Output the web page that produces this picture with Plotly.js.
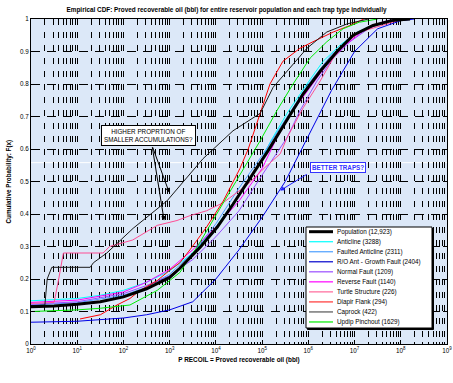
<!DOCTYPE html>
<html><head><meta charset="utf-8">
<script src="https://cdn.plot.ly/plotly-3.0.1.min.js"></script>
<style>html,body{margin:0;padding:0;background:#fff}#chart{width:453px;height:383px}</style>
</head><body><div id="chart"></div>
<script>
// ---- DATA (x given as log10 of P RECOIL in bbl, y = cumulative probability) ----
const seriesNames = ['Population (12,923)','Anticline (3288)','Faulted Anticline (2311)','R/O Ant - Growth Fault (2404)','Normal Fault (1209)','Reverse Fault (1140)','Turtle Structure (226)','Diapir Flank (294)','Caprock (422)','Updip Pinchout (1629)'];

const popExp = [0,0.5,1,1.5,2,2.5,3,3.22,3.66,4.03,4.37,4.74,5.13,5.54,5.89,6.26,6.62,6.97,7.4,7.8,8.2];
const popF   = [.115,.117,.122,.13,.145,.17,.205,.233,.298,.36,.43,.51,.595,.69,.77,.84,.90,.95,.98,.995,1];

const antExp = [0,1,1.5,2,2.5,3,3.5,4,4.5,5,5.17,5.54,5.97,6.32,6.69,7.06,7.5,8];
const antF   = [.133,.14,.15,.165,.19,.225,.28,.36,.46,.57,.62,.71,.80,.87,.92,.96,.985,1];

const fantExp = [0,1,2,2.5,3,3.5,4,4.5,5,5.5,6,6.5,7,7.5,7.9];
const fantF   = [.12,.127,.15,.175,.215,.28,.37,.48,.58,.69,.80,.89,.95,.985,1];

const roExp = [0,1,2,2.5,3,3.5,4,4.5,5,5.5,6,6.5,7,7.5,8,8.3];
const roF   = [.067,.07,.08,.09,.105,.13,.2,.29,.39,.5,.64,.78,.9,.97,.995,1];

const normExp = [0,1,2,2.5,3,3.5,4,4.5,5,5.54,5.82,6.19,6.54,6.9,7.3,7.7,8];
const normF   = [.122,.13,.155,.18,.21,.26,.33,.41,.52,.635,.718,.81,.88,.93,.97,.995,1];

const revExp = [0,1,2,2.5,3,3.5,4,4.5,5,5.32,5.67,6.04,6.4,6.8,7.2,7.6,8];
const revF   = [.128,.135,.16,.19,.23,.29,.36,.44,.54,.635,.718,.79,.86,.92,.965,.99,1];

const turtExp = [0,0.5,0.6,0.7,1.56,1.7,2.2,2.73,3.16,3.44,3.8,4.16,4.68,5.06,5.39,5.54,5.89,6.26,6.54,6.84,7.12,7.6,8.05];
const turtF   = [.125,.128,.2,.28,.28,.3,.32,.365,.38,.395,.41,.435,.49,.543,.585,.635,.727,.81,.88,.93,.96,.98,1];

const diapExp = [1.06,1.5,1.86,2.14,2.36,2.73,3,3.22,3.44,3.8,4.16,4.52,4.7,4.89,5.17,5.45,5.82,6.1,6.54,6.9,7.2];
const diapF   = [.077,.09,.12,.14,.165,.195,.227,.25,.29,.36,.44,.54,.6,.68,.8,.87,.91,.93,.96,.98,1];

const capExp = [0,0.3,0.35,0.45,1.28,1.35,1.64,2.21,2.94,3.72,4.37,4.96,5.24,5.67,5.97,6.4,6.84,7.3];
const capF   = [.118,.12,.2,.236,.236,.25,.28,.356,.44,.57,.656,.71,.79,.86,.91,.96,.985,1];

const updExp = [0,1,1.5,2.14,2.73,3.22,3.6,4.1,4.6,4.96,5.32,5.67,6.04,6.4,6.75,7.1,7.5];
const updF   = [.1,.105,.11,.12,.165,.22,.3,.42,.54,.626,.718,.8,.88,.93,.97,.99,1];

const xTickExp = [0,1,2,3,4,5,6,7,8,9];
const yTicks = [0,0.1,0.2,0.3,0.4,0.5,0.6,0.7,0.8,0.9,1];

// ---- STYLE ----
const seriesExp = [popExp,antExp,fantExp,roExp,normExp,revExp,turtExp,diapExp,capExp,updExp];
const seriesF   = [popF,antF,fantF,roF,normF,revF,turtF,diapF,capF,updF];
const colors = ['#000000','#00ffff','#4d9fff','#0000e6','#9a4dff','#ff00ff','#ff4d94','#ff0000','#1a1a1a','#00ee00'];
const legendColors = ['#000000','#00ffff','#4d9fff','#0000cc','#9a4dff','#ff00ff','#ff6699','#ff3333','#555555','#00ee00'];
const widths = [3,1,1,1,1,1,1,1,1,1];
const FONT = 'Liberation Sans, Arial, sans-serif';

const toVal = e => Math.pow(10, e);
const traces = [];
const order = [1,2,3,4,5,6,7,9,8,0];
order.forEach(i => {
  traces.push({
    type:'scatter', mode:'lines', name: seriesNames[i],
    x: seriesExp[i].map(toVal), y: seriesF[i],
    line:{color: colors[i], width: widths[i]},
    showlegend:false, hoverinfo:'skip'
  });
});

// plot area in pixels
const L=31, R=447, T=19, B=344;
const px = p => (p-L)/(R-L);
const py = p => (B-p)/(B-T);

const shapes = [
  {type:'line', xref:'paper', yref:'y', x0:0, x1:1, y0:0.558, y1:0.558, line:{color:'#ffffff', width:1}, layer:'between'},
  // legend shadow + box
  {type:'rect', xref:'paper', yref:'paper', x0:px(307.5), x1:px(433.5), y0:py(329.5), y1:py(228.5), line:{color:'#000', width:1}, fillcolor:'#000'},
  {type:'rect', xref:'paper', yref:'paper', x0:px(306), x1:px(432), y0:py(328), y1:py(227), line:{color:'#000', width:1}, fillcolor:'#fff'}
];
const annotations = [];
seriesNames.forEach((n,i) => {
  const yy = 231.7 + i*10.03;
  shapes.push({type:'line', xref:'paper', yref:'paper', x0:px(309), x1:px(333), y0:py(yy), y1:py(yy),
    line:{color: legendColors[i], width: i===0?3:1.2}});
  annotations.push({xref:'paper', yref:'paper', x:px(334.5), y:py(yy), xanchor:'left', yanchor:'middle',
    text:n, showarrow:false, font:{family:FONT, size:6.3, color:'#000'}});
});

annotations.push(
  {xref:'x', yref:'y', x:2.55, y:0.641, text:'HIGHER PROPRTION OF<br>SMALLER ACCUMULATIONS?', showarrow:false,
   bgcolor:'#fff', bordercolor:'#000', borderwidth:1, borderpad:2, font:{family:FONT, size:6.3, color:'#000'}},
  {xref:'x', yref:'y', x:2.99, y:0.466, axref:'x', ayref:'y', ax:2.62, ay:0.61, text:'', showarrow:true,
   arrowhead:2, arrowsize:0.9, arrowwidth:1, arrowcolor:'#000'},
  {xref:'x', yref:'y', x:2.88, y:0.38, axref:'x', ayref:'y', ax:2.62, ay:0.61, text:'', showarrow:true,
   arrowhead:2, arrowsize:0.9, arrowwidth:1, arrowcolor:'#000'},
  {xref:'x', yref:'y', x:6.65, y:0.543, text:'<b>BETTER TRAPS?</b>', showarrow:false,
   bgcolor:'#fff', bordercolor:'#3333ff', borderwidth:1, borderpad:1, font:{family:FONT, size:6.3, color:'#3333ff'}},
  {xref:'x', yref:'y', x:5.39, y:0.472, axref:'x', ayref:'y', ax:6.0, ay:0.525, text:'', showarrow:true,
   arrowhead:2, arrowsize:0.9, arrowwidth:1, arrowcolor:'#2222ff'},
  {xref:'paper', yref:'paper', x:px(8), y:0.5, text:'<b>Cumulative Probability: F(x)</b>', textangle:-90, showarrow:false,
   xanchor:'center', yanchor:'middle', font:{family:FONT, size:6.3, color:'#000'}}
);

const layout = {
  width:453, height:383,
  margin:{l:L, r:453-R, t:T, b:383-B},
  paper_bgcolor:'#ffffff', plot_bgcolor:'#dce8f8',
  font:{family:FONT, size:6.3, color:'#000'},
  title:{text:'<b>Empirical CDF: Proved recoverable oil (bbl) for entire reservoir population and each trap type individually</b>',
    font:{family:FONT, size:6.4, color:'#000'}, x:0.5, xanchor:'center', y:1-10/383, yanchor:'middle'},
  xaxis:{type:'log', range:[0,9], tickmode:'array', tickvals:xTickExp.map(toVal),
    ticktext:xTickExp.map(e=>'10<sup>'+e+'</sup>'),
    ticks:'inside', ticklen:4, tickcolor:'#000', mirror:'ticks', showline:true, linecolor:'#000', linewidth:1,
    showgrid:true, gridcolor:'#000', gridwidth:1, griddash:'6px,7px',
    minor:{dtick:'D1', showgrid:true, gridcolor:'#000', gridwidth:1, griddash:'6px,7px', ticks:'inside', ticklen:2, tickcolor:'#000'},
    zeroline:false, tickfont:{family:FONT, size:6.3, color:'#000'},
    title:{text:'<b>P RECOIL = Proved recoverable oil (bbl)</b>', font:{family:FONT, size:6.4, color:'#000'}, standoff:4}},
  yaxis:{range:[0,1], tickmode:'array', tickvals:yTicks, ticktext:yTicks.map(v=>String(v)),
    ticks:'inside', ticklen:4, tickcolor:'#000', mirror:'ticks', showline:true, linecolor:'#000', linewidth:1,
    showgrid:true, gridcolor:'#000', gridwidth:1, griddash:'9px,7px', zeroline:false,
    tickfont:{family:FONT, size:6.3, color:'#000'}},
  shapes: shapes, annotations: annotations, showlegend:false
};
Plotly.newPlot('chart', traces, layout, {displayModeBar:false, staticPlot:true});
</script></body></html>
